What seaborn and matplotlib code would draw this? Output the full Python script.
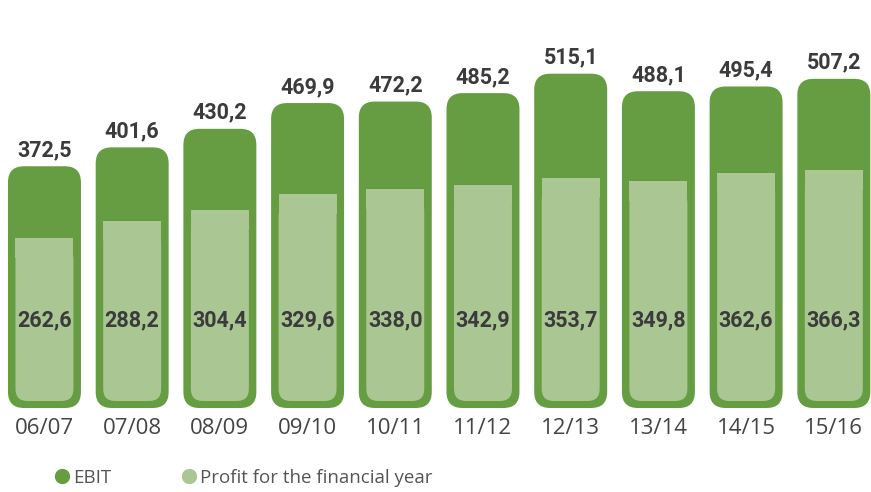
import numpy as np
import matplotlib
matplotlib.use("Agg")
import matplotlib.pyplot as plt
from matplotlib.patches import FancyBboxPatch, Rectangle
from matplotlib.lines import Line2D
import matplotlib.transforms as mtransforms
import seaborn as sns

seasons = ["06/07", "07/08", "08/09", "09/10", "10/11", "11/12", "12/13", "13/14", "14/15", "15/16"]
ebit = [372.5, 401.6, 430.2, 469.9, 472.2, 485.2, 515.1, 488.1, 495.4, 507.2]
profit = [262.6, 288.2, 304.4, 329.6, 338.0, 342.9, 353.7, 349.8, 362.6, 366.3]

DARK = "#669d42"
LIGHT = "#a9c693"
TXT = "#3b3b3b"

def fmt(v):
    return f"{v:.1f}".replace(".", ",")

sns.set_theme(style="white")
plt.rcParams["font.family"] = ["Roboto", "DejaVu Sans"]

W, H = 871, 492
fig = plt.figure(figsize=(W / 100, H / 100), dpi=100)
base_px = 408
ax = fig.add_axes([0, (H - base_px) / H, 1, base_px / H])

px_per_val = 0.649

sns.barplot(x=seasons, y=ebit, color=DARK, width=0.832, ax=ax, saturation=1)
n_dark = len(ax.patches)
sns.barplot(x=seasons, y=profit, color=LIGHT, width=0.661, ax=ax, saturation=1)
ax.set_xlim(-0.507, 9.424)
ax.set_ylim(0, base_px / px_per_val)

# data units per pixel
ux = (ax.get_xlim()[1] - ax.get_xlim()[0]) / W
uy = (ax.get_ylim()[1] - ax.get_ylim()[0]) / base_px
aspect = uy / ux

patches = list(ax.patches)
for k, p in enumerate(patches):
    x, w, h = p.get_x(), p.get_width(), p.get_height()
    p.remove()
    if k < n_dark:
        r = 16 * ux
        fb = FancyBboxPatch((x, 0), w, h, boxstyle=f"round,pad=0,rounding_size={r}",
                            mutation_aspect=aspect, fc=DARK, ec="none", zorder=2)
        ax.add_patch(fb)
    else:
        r = 12 * ux
        y0 = 7 * uy
        fb = FancyBboxPatch((x, y0), w, h - y0 - 10 * uy, boxstyle=f"round,pad=0,rounding_size={r}",
                            mutation_aspect=aspect, fc=LIGHT, ec="none", zorder=3)
        ax.add_patch(fb)
        ax.add_patch(Rectangle((x, h - 20 * uy), w, 20 * uy, fc=LIGHT, ec="none", lw=0, zorder=3))

trans = mtransforms.blended_transform_factory(ax.transData, ax.transAxes)
for i, (e, p) in enumerate(zip(ebit, profit)):
    ax.text(i, e + 5 * uy, fmt(e), ha="center", va="bottom", fontsize=15.5,
            fontweight="bold", color=TXT, zorder=5)
    ax.text(i, (base_px - 320) / base_px, fmt(p), ha="center", va="center", fontsize=15.5,
            fontweight="bold", color=TXT, transform=trans, zorder=5)

ax.set_xticks(range(len(seasons)))
ax.set_xticklabels(seasons, fontsize=16, color="#444444", family=["Open Sans", "DejaVu Sans"])
ax.tick_params(axis="x", length=0, pad=7)
ax.set_yticks([])
ax.set_xlabel("")
ax.set_ylabel("")
sns.despine(ax=ax, left=True, bottom=True)

handles = [Line2D([], [], marker="o", ls="none", color=DARK, markersize=10),
           Line2D([], [], marker="o", ls="none", color=LIGHT, markersize=10)]
leg = fig.legend(handles, ["EBIT", "Profit for the financial year"], loc="center left",
                 bbox_to_anchor=(36 / W, 1 - 478 / H), ncol=2, frameon=False,
                 handletextpad=0.1, columnspacing=3.6, handlelength=1.0,
                 prop={"family": ["Open Sans", "DejaVu Sans"], "size": 13.5})
for t in leg.get_texts():
    t.set_color("#555555")

fig.savefig("out.png", dpi=100)
